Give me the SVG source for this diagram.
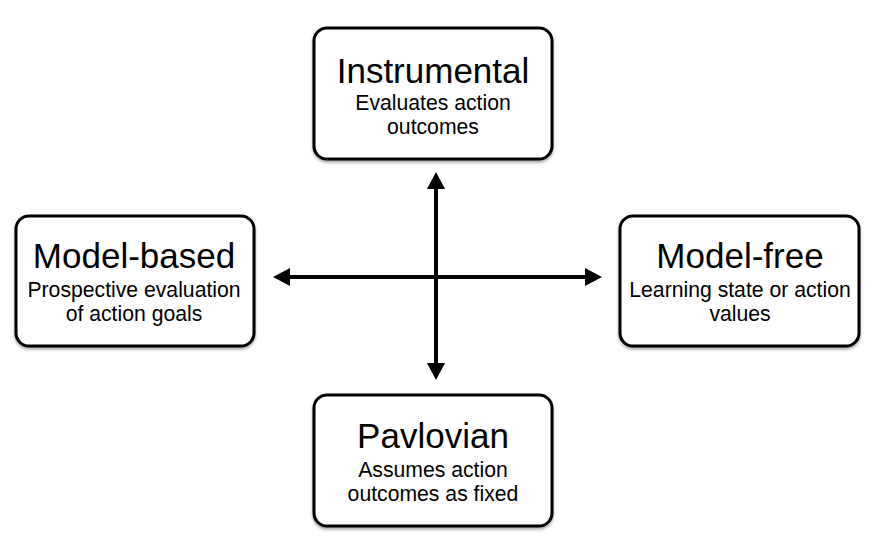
<svg xmlns="http://www.w3.org/2000/svg" width="873" height="545" viewBox="0 0 873 545">
  <defs>
    <filter id="shadow" x="-10%" y="-10%" width="120%" height="130%">
      <feDropShadow dx="0" dy="2" stdDeviation="1.5" flood-color="#000" flood-opacity="0.35"/>
    </filter>
    <marker id="arrow" markerUnits="userSpaceOnUse" markerWidth="17" markerHeight="18" refX="2" refY="9" orient="auto-start-reverse">
      <path d="M0,0 L17,9 L0,18 z" fill="#000"/>
    </marker>
    <style>
      .box { fill: #fff; stroke: #000; stroke-width: 3; filter: url(#shadow); }
      .title { font-family: "Liberation Sans", Arial, sans-serif; font-size: 35px; fill: #000; text-anchor: middle; }
      .sub { font-family: "Liberation Sans", Arial, sans-serif; font-size: 21.2px; fill: #000; text-anchor: middle; }
      .conn { stroke: #000; stroke-width: 4; fill: none; }
    </style>
  </defs>
  <rect width="873" height="545" fill="#fff"/>
  <g id="connectors">
    <line class="conn" x1="288" y1="277" x2="587" y2="277" marker-start="url(#arrow)" marker-end="url(#arrow)"/>
    <line class="conn" x1="436" y1="187" x2="436" y2="365" marker-start="url(#arrow)" marker-end="url(#arrow)"/>
  </g>
  <g id="instrumental">
    <rect class="box" x="314" y="28" width="238" height="131" rx="13"/>
    <text class="title" x="433" y="83">Instrumental</text>
    <text class="sub" x="433" y="110">Evaluates action</text>
    <text class="sub" x="433" y="134">outcomes</text>
  </g>
  <g id="model-based">
    <rect class="box" x="16" y="216" width="238" height="130" rx="13"/>
    <text class="title" x="134" y="268">Model-based</text>
    <text class="sub" x="134" y="297">Prospective evaluation</text>
    <text class="sub" x="134" y="321">of action goals</text>
  </g>
  <g id="model-free">
    <rect class="box" x="620" y="216" width="239" height="130" rx="13"/>
    <text class="title" x="740" y="268">Model-free</text>
    <text class="sub" x="740" y="297">Learning state or action</text>
    <text class="sub" x="740" y="321">values</text>
  </g>
  <g id="pavlovian">
    <rect class="box" x="314" y="395" width="238" height="131" rx="13"/>
    <text class="title" x="433" y="448">Pavlovian</text>
    <text class="sub" x="433" y="477">Assumes action</text>
    <text class="sub" x="433" y="501">outcomes as fixed</text>
  </g>
</svg>
